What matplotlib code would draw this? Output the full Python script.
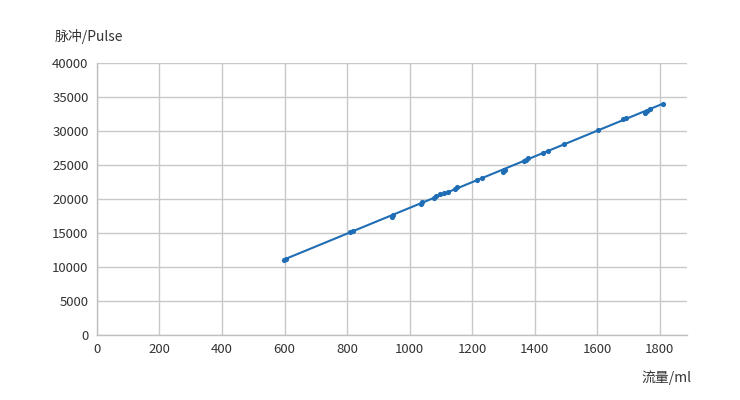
import matplotlib
matplotlib.use("Agg")
import matplotlib.pyplot as plt
import numpy as np

plt.rcParams['font.family'] = ['Noto Sans CJK SC', 'DejaVu Sans']

flow_ml = [598, 605, 809, 820, 943, 948, 1035, 1040, 1077, 1085, 1097, 1110, 1122,
           1145, 1151, 1215, 1231, 1298, 1302, 1306, 1365, 1372, 1378, 1426, 1442,
           1493, 1602, 1682, 1691, 1752, 1760, 1768, 1810]
pulse = [11100, 11200, 15100, 15300, 17400, 17600, 19300, 19600, 20200, 20400, 20700,
         20900, 21000, 21400, 21700, 22800, 23100, 24000, 24300, 24200, 25600, 25800,
         26000, 26800, 27000, 28100, 30100, 31700, 31900, 32700, 33000, 33300, 34000]

x_ticks = [0, 200, 400, 600, 800, 1000, 1200, 1400, 1600, 1800]
y_ticks = [0, 5000, 10000, 15000, 20000, 25000, 30000, 35000, 40000]

fig = plt.figure(figsize=(7.4, 4.0), dpi=100)
ax = fig.add_axes([0.131, 0.1625, 0.797, 0.68])

xs = np.array(flow_ml, dtype=float)
ys = np.array(pulse, dtype=float)
k, b = np.polyfit(xs, ys, 1)
xl = np.array([xs.min(), xs.max()])
ax.plot(xl, k * xl + b, color='#1f6db5', linewidth=1.5, zorder=3)
ax.scatter(xs, ys, s=14, color='#1f6db5', zorder=4, linewidths=0)

ax.set_xlim(0, 1886)
ax.set_ylim(0, 40000)
ax.set_xticks(x_ticks)
ax.set_yticks(y_ticks)
ax.grid(True, color='#c8c8c8', linewidth=1.0)
ax.set_axisbelow(True)
for s in ['top', 'right']:
    ax.spines[s].set_visible(False)
for s in ['left', 'bottom']:
    ax.spines[s].set_color('#c0c0c0')
    ax.spines[s].set_linewidth(1.0)
ax.tick_params(length=0, labelsize=9.5, colors='#333333', pad=6)

fig.text(0.074, 0.91, '脉冲/Pulse', fontsize=10, color='#333333', ha='left', va='center')
fig.text(0.935, 0.055, '流量/ml', fontsize=10, color='#333333', ha='right', va='center')

fig.savefig('out.png', dpi=100, facecolor='white')
